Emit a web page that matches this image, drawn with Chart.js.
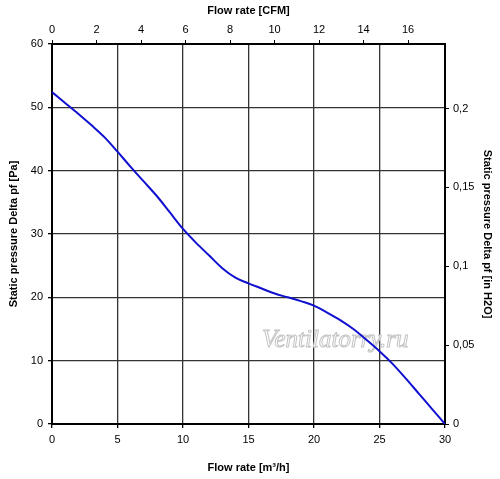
<!DOCTYPE html>
<html>
<head>
<meta charset="utf-8">
<script src="https://cdn.jsdelivr.net/npm/chart.js@4"></script>
<style>
  html, body { margin: 0; padding: 0; background: #fff; }
  #wrap { width: 500px; height: 479px; }
</style>
</head>
<body>
<div id="wrap"><canvas id="fanChart"></canvas></div>
<script>
// Fan curve data
const flowM3h = [0, 1, 2, 3, 4, 5, 6, 7, 8, 9, 10, 11, 12, 13, 14, 15, 16, 17, 18, 19, 20, 21, 22, 23, 24, 25, 26, 27, 28, 29, 30]
const pressurePa = [52.4, 50.7, 49.0, 47.2, 45.3, 43.0, 40.6, 38.3, 36.0, 33.4, 30.8, 28.6, 26.6, 24.6, 23.1, 22.2, 21.4, 20.6, 20.0, 19.4, 18.7, 17.6, 16.4, 15.0, 13.3, 11.5, 9.5, 7.2, 4.8, 2.4, 0]

// Tick labels
const m3hTicks = [0, 5, 10, 15, 20, 25, 30]
const cfmTicks = [0, 2, 4, 6, 8, 10, 12, 14, 16]
const paTicks = [0, 10, 20, 30, 40, 50, 60]
const inH2OTicks = [0, 0.05, 0.1, 0.15, 0.2]

const M3H_PER_CFM = 1.699
const PA_PER_INH2O = 249.1

const fontFam = "'Liberation Sans', Arial, sans-serif"
const tickFont = { family: fontFam, size: 11 }
const titleFont = { family: fontFam, size: 11, weight: 'bold' }

const points = flowM3h.map((x, i) => ({ x: x, y: pressurePa[i] }))

function setTicks(vals) {
    return function (scale) {
        scale.ticks = vals.map(v => ({ value: v }))
    }
}

function fixSize(prop, val) {
    return function (scale) {
        scale[prop] = val
    }
}

// watermark behind the curve
const watermark = {
    id: 'watermark',
    beforeDatasetsDraw(chart) {
        const ctx = chart.ctx
        const area = chart.chartArea
        ctx.save()
        ctx.font = "italic 25px 'Liberation Serif', 'Times New Roman', serif"
        ctx.textBaseline = 'alphabetic'
        ctx.lineWidth = 1
        ctx.strokeStyle = '#c4c4c4'
        ctx.fillStyle = '#ffffff'
        const x = area.left + 210
        const y = area.top + 303
        ctx.fillText('Ventilatorry.ru', x, y)
        ctx.strokeText('Ventilatorry.ru', x, y)
        ctx.restore()
    }
}

const ctx = document.getElementById('fanChart')

new Chart(ctx, {
    type: 'line',
    data: {
        datasets: [{
            data: points,
            borderColor: '#1010d0',
            borderWidth: 2,
            pointRadius: 0,
            cubicInterpolationMode: 'monotone',
            fill: false
        }]
    },
    options: {
        responsive: true,
        maintainAspectRatio: false,
        animation: false,
        layout: { padding: 0 },
        plugins: {
            legend: { display: false },
            tooltip: { enabled: false }
        },
        scales: {
            x: {
                type: 'linear',
                position: 'bottom',
                min: 0,
                max: 30,
                afterBuildTicks: setTicks(m3hTicks),
                afterFit: fixSize('height', 55),
                ticks: { color: '#000', font: tickFont, padding: 5, maxRotation: 0 },
                grid: { color: '#333', lineWidth: 1.3, tickLength: 4, tickColor: '#000' },
                border: { color: '#000', width: 2 },
                title: { display: true, text: 'Flow rate [m³/h]', color: '#000', font: titleFont, padding: { top: 12 } }
            },
            x2: {
                type: 'linear',
                position: 'top',
                min: 0,
                max: 30 / M3H_PER_CFM,
                afterBuildTicks: setTicks(cfmTicks),
                afterFit: fixSize('height', 44),
                ticks: { color: '#000', font: tickFont, padding: 3, maxRotation: 0 },
                grid: { drawOnChartArea: false, tickLength: 4, color: '#000' },
                border: { color: '#000', width: 2 },
                title: { display: true, text: 'Flow rate [CFM]', color: '#000', font: titleFont, padding: { bottom: 6 } }
            },
            y: {
                type: 'linear',
                position: 'left',
                min: 0,
                max: 60,
                afterBuildTicks: setTicks(paTicks),
                afterFit: fixSize('width', 52),
                ticks: { color: '#000', font: tickFont, padding: 5 },
                grid: { color: '#333', lineWidth: 1.3, tickLength: 4, tickColor: '#000' },
                border: { color: '#000', width: 2 },
                title: { display: true, text: 'Static pressure Delta pf [Pa]', color: '#000', font: titleFont, padding: { top: 7 } }
            },
            y2: {
                type: 'linear',
                position: 'right',
                min: 0,
                max: 60 / PA_PER_INH2O,
                afterBuildTicks: setTicks(inH2OTicks),
                afterFit: fixSize('width', 55),
                ticks: {
                    color: '#000',
                    font: tickFont,
                    padding: 4,
                    callback: v => String(Math.round(v * 100) / 100).replace('.', ',')
                },
                grid: { drawOnChartArea: false, tickLength: 4, color: '#000' },
                border: { color: '#000', width: 2 },
                title: { display: true, text: 'Static pressure Delta pf [in H2O]', color: '#000', font: titleFont, padding: { top: 6 } }
            }
        }
    },
    plugins: [watermark]
})
</script>
</body>
</html>
